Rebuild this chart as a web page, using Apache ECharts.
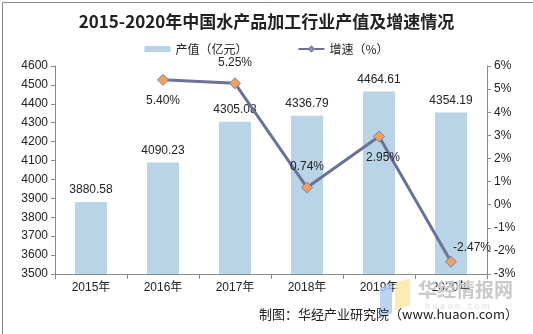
<!DOCTYPE html>
<html><head><meta charset="utf-8">
<script src="https://cdn.jsdelivr.net/npm/echarts@6/dist/echarts.min.js"></script>
<style>html,body{margin:0;padding:0;background:#fff}#c{width:533px;height:334px}</style>
</head><body><div id="c"></div>
<script>
const categories = ['2015年','2016年','2017年','2018年','2019年','2020年'];
const outputValues = [3880.58, 4090.23, 4305.08, 4336.79, 4464.61, 4354.19];
const growthValues = [null, 5.40, 5.25, 0.74, 2.95, -2.47];
const growthLabelPos = [null, 'bottom', 'top', 'top', 'bottom', 'right'];

const chart = echarts.init(document.getElementById('c'));
const font = 'Liberation Sans, Arial, "Noto Sans CJK SC", sans-serif';
chart.setOption({
  animation: false,
  title: {
    text: '2015-2020年中国水产品加工行业产值及增速情况',
    left: 'center', top: 8,
    textStyle: {fontSize: 17, fontWeight: 'bold', color: '#222', fontFamily: '"Noto Sans CJK SC", serif'}
  },
  legend: {
    top: 38, left: 'center', itemGap: 50, itemWidth: 26, itemHeight: 6,
    textStyle: {fontSize: 12, color: '#222', fontFamily: '"Noto Sans CJK SC", sans-serif'},
    data: [
      {name: '产值（亿元）', icon: 'rect'},
      {name: '增速（%）'}
    ]
  },
  grid: {left: 55, right: 46, top: 66, bottom: 60},
  xAxis: {
    type: 'category', data: categories,
    axisLine: {onZero: false, lineStyle: {color: '#888'}},
    axisTick: {show: true, length: 5, lineStyle: {color: '#888'}},
    axisLabel: {color: '#222', fontSize: 12, fontFamily: font, margin: 8}
  },
  yAxis: [
    {type: 'value', min: 3500, max: 4600, interval: 100,
     axisLine: {show: true, lineStyle: {color: '#888'}},
     axisTick: {show: true, length: 4, lineStyle: {color: '#888'}},
     splitLine: {show: false},
     axisLabel: {color: '#222', fontSize: 12, fontFamily: font, margin: 7, formatter: v => String(v)}},
    {type: 'value', min: -3, max: 6, interval: 1,
     axisLine: {show: true, lineStyle: {color: '#888'}},
     axisTick: {show: true, length: 4, lineStyle: {color: '#888'}},
     splitLine: {show: false},
     axisLabel: {color: '#222', fontSize: 12, fontFamily: font, margin: 7, formatter: v => v + '%'}}
  ],
  series: [
    {name: '产值（亿元）', type: 'bar', data: outputValues, barWidth: 32,
     itemStyle: {color: '#b8d4e6'},
     label: {show: true, position: 'top', distance: 6, color: '#222', fontSize: 12, fontFamily: font,
             formatter: p => p.value.toFixed(2)}},
    {name: '增速（%）', type: 'line', yAxisIndex: 1,
     data: growthValues.map((v, i) => v === null ? null : {
       value: v,
       label: {position: growthLabelPos[i], distance: growthLabelPos[i] === 'right' ? 0 : 9,
               offset: growthLabelPos[i] === 'right' ? [-4, -14] : (i === 4 ? [4, 0] : [0, 0])}
     }),
     symbol: 'diamond', symbolSize: 11,
     lineStyle: {color: '#6b7299', width: 3},
     itemStyle: {color: '#f0a060', borderColor: '#7a80a8', borderWidth: 1},
     label: {show: true, color: '#222', fontSize: 12, fontFamily: font,
             formatter: p => p.value.toFixed(2) + '%'}}
  ],
  graphic: [
    {type: 'rect', left: 0, top: 0, shape: {width: 532, height: 333},
     style: {fill: 'none', stroke: '#888', lineWidth: 1}, silent: true, z: 100},
    {type: 'polygon', shape: {points: [[380,288],[392,283],[392,313],[380,318]]}, style: {fill: '#a9c8f0', opacity: 0.8}, z: 50},
    {type: 'polygon', shape: {points: [[395,283],[410,278],[410,305],[395,310]]}, style: {fill: '#fbe7a0', opacity: 0.8}, z: 50},
    {type: 'text', left: 418, top: 280, style: {text: '华经情报网', fill: '#c9c9c9', font: 'bold 19px "Noto Sans CJK SC"'}, z: 50},
    {type: 'text', left: 425, top: 302, style: {text: 'h u a o n . c o m', fill: '#dcdcdc', font: '9px Liberation Sans'}, z: 50},
    {type: 'text', right: 15, top: 308, style: {text: '制图：华经产业研究院（www.huaon.com）', fill: '#222', font: '13px "Noto Sans CJK SC", sans-serif'}, z: 60}
  ]
});
</script></body></html>
